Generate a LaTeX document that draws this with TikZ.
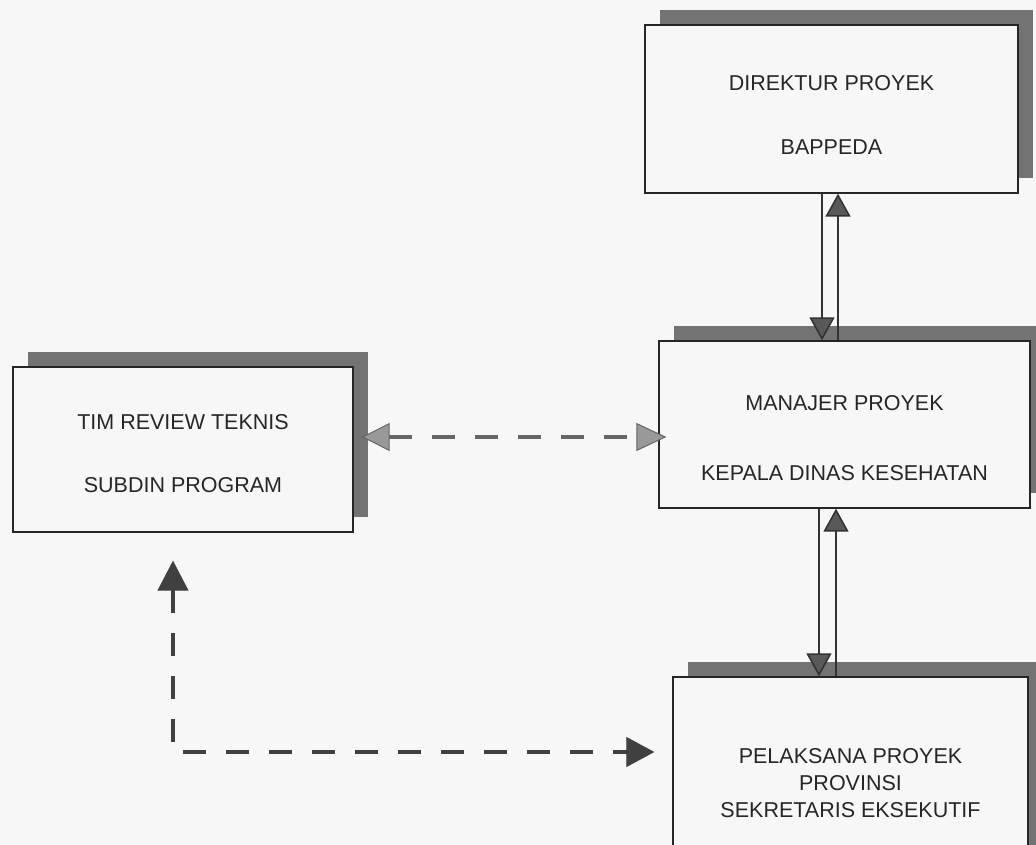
\documentclass[tikz,border=0pt]{standalone}
\usepackage{fontspec}
\setmainfont{Liberation Sans}
\usetikzlibrary{arrows.meta,shadows,calc}
\definecolor{kertas}{HTML}{F7F7F7}

\begin{document}
\begin{tikzpicture}[x=1pt,y=-1pt,
  kotak/.style={draw=black!85, line width=1.3pt, fill=kertas, align=center, inner sep=0pt,
    font=\fontsize{21.5}{27}\selectfont, text=black!85,
    general shadow={shadow xshift=15pt, shadow yshift=15pt, fill=black!55}},
  garis/.style={draw=black!80, line width=1.6pt, -{Triangle[width=25pt,length=23pt,fill=black!65]}},
  putus/.style={line width=4.5pt, dash pattern=on 23pt off 20pt}]
\fill[kertas, use as bounding box] (0,0) rectangle (1036,845);
\node[kotak, minimum width=373pt, minimum height=168pt] (dir) at (831.5,109)
  {\rule{0pt}{28pt}DIREKTUR PROYEK\\[37pt]BAPPEDA};
\node[kotak, minimum width=371pt, minimum height=167pt] (man) at (844.5,424.5)
  {\rule{0pt}{43pt}MANAJER PROYEK\\[43pt]KEPALA DINAS KESEHATAN};
\node[kotak, minimum width=340pt, minimum height=165pt] (tim) at (183,449.5)
  {\rule{0pt}{24pt}TIM REVIEW TEKNIS\\[36pt]SUBDIN PROGRAM};
\node[kotak, minimum width=355pt, minimum height=212pt] (pel) at (850.5,783)
  {PELAKSANA PROYEK\\PROVINSI\\SEKRETARIS EKSEKUTIF};
% garis komando
\draw[garis] ([xshift=-9.5pt]dir.south) -- ([xshift=-9.5pt]dir.south |- man.north);
\draw[garis] ([xshift=6.5pt]dir.south |- man.north) -- ([xshift=6.5pt]dir.south);
\draw[garis] ([xshift=-25.5pt]man.south) -- ([xshift=-25.5pt]man.south |- pel.north);
\draw[garis] ([xshift=-8.5pt]man.south |- pel.north) -- ([xshift=-8.5pt]man.south);
% garis koordinasi
\draw[putus, draw=black!60, {Triangle[width=28pt,length=28pt,fill=black!40,line width=1pt]}-{Triangle[width=28pt,length=30pt,fill=black!40,line width=1pt]}]
  ([shift={(8pt,12.5pt)}]tim.east) -- ([shift={(8pt,12.5pt)}]tim.east -| man.west);
\coordinate (siku) at (173,752);
\draw[putus, draw=black!75, {Triangle[width=31pt,length=30pt,line width=1pt]}-{Triangle[width=30pt,length=28pt,line width=1pt]}]
  ([yshift=-28pt]tim.south -| siku) -- (siku) -- ([xshift=-18pt]pel.west |- siku);
\end{tikzpicture}
\end{document}
